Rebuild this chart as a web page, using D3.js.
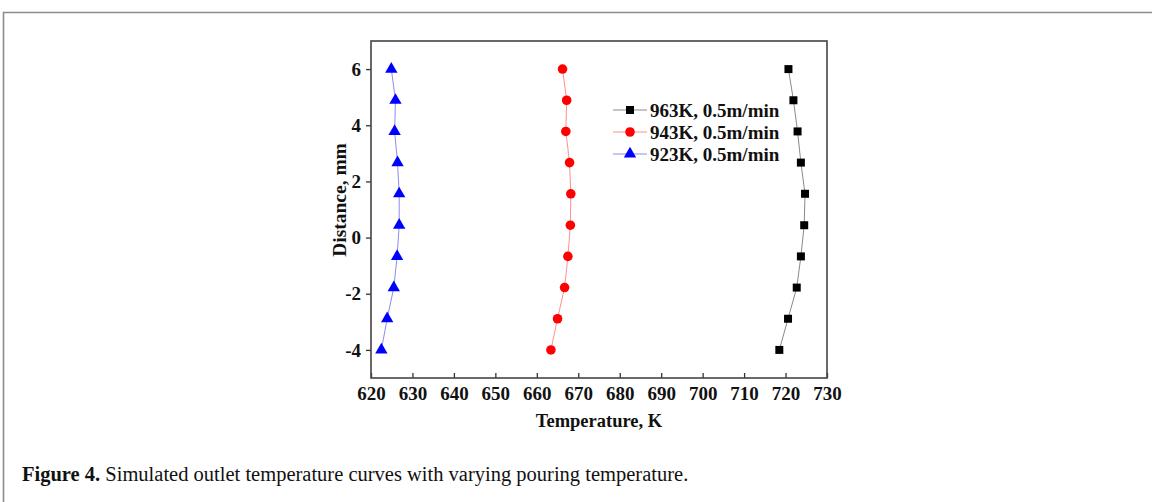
<!DOCTYPE html>
<html>
<head>
<meta charset="utf-8">
<script src="https://cdn.jsdelivr.net/npm/d3@7"></script>
<style>
  body { margin: 0; background: #fff; }
  svg { display: block; }
</style>
</head>
<body>
<div id="chart-area"></div>
<script>
// distance positions along the outlet (mm)
const distances = [6, 4.89, 3.78, 2.67, 1.56, 0.44, -0.67, -1.78, -2.89, -4];
const temp963 = [720.7, 721.9, 722.9, 723.7, 724.7, 724.5, 723.7, 722.7, 720.6, 718.5];
const temp943 = [666.2, 667.2, 667.0, 667.9, 668.2, 668.1, 667.5, 666.7, 665.0, 663.4];
const temp923 = [624.9, 625.9, 625.7, 626.4, 626.8, 626.8, 626.3, 625.5, 623.9, 622.5];
const seriesNames = ["963K, 0.5m/min", "943K, 0.5m/min", "923K, 0.5m/min"];
const xTicks = [620, 630, 640, 650, 660, 670, 680, 690, 700, 710, 720, 730];
const yTicks = [-4, -2, 0, 2, 4, 6];

const series = [
  { name: seriesNames[0], values: temp963, color: "#000000", line: "#8a8a8a", shape: "square" },
  { name: seriesNames[1], values: temp943, color: "#ff0000", line: "#ff9090", shape: "circle" },
  { name: seriesNames[2], values: temp923, color: "#0000ff", line: "#8c8cf0", shape: "triangle" }
];

const svgWidth = 1152;
const svgHeight = 502;
const margin = { top: 41, right: 325, bottom: 124, left: 371 };
const width = svgWidth - margin.left - margin.right;
const height = svgHeight - margin.top - margin.bottom;

const svg = d3.select("#chart-area")
              .append("svg")
              .attr("width", svgWidth)
              .attr("height", svgHeight);

svg.append("rect")
   .attr("width", svgWidth).attr("height", svgHeight)
   .attr("fill", "#fff");

// outer figure frame (top and left only)
svg.append("path")
   .attr("d", `M3.5,${svgHeight} V12.5 H${svgWidth}`)
   .attr("fill", "none")
   .attr("stroke", "#8c8c8c")
   .attr("stroke-width", 1.6);

const g = svg.append("g")
             .attr("transform", `translate(${margin.left}, ${margin.top})`);

const x = d3.scaleLinear().domain([620, 730]).range([0, width]);
const y = d3.scaleLinear().domain([-5, 7]).range([height, 0]);

const tickFont = "'Liberation Serif', 'Times New Roman', serif";

const xAxisCall = d3.axisBottom(x).tickValues(xTicks).tickSizeInner(-5).tickSizeOuter(0).tickPadding(9);
const yAxisCall = d3.axisLeft(y).tickValues(yTicks).tickSizeInner(5).tickSizeOuter(0).tickPadding(5)
                    .tickFormat(d => String(d));

const xAxis = g.append("g")
   .attr("class", "x-axis")
   .attr("transform", `translate(0, ${height})`)
   .call(xAxisCall);

const yAxis = g.append("g")
   .attr("class", "y-axis")
   .call(yAxisCall);

[xAxis, yAxis].forEach(ax => {
  ax.select(".domain").remove();
  ax.selectAll(".tick line").attr("stroke", "#333").attr("stroke-width", 1.3);
  ax.selectAll(".tick text")
    .attr("fill", "#111")
    .style("font-family", tickFont)
    .style("font-weight", "bold")
    .style("font-size", "19px");
});

// plot frame
g.append("rect")
 .attr("width", width).attr("height", height)
 .attr("fill", "none")
 .attr("stroke", "#444")
 .attr("stroke-width", 1.6);

const symbolFor = shape => {
  if (shape === "square") return d3.symbol().type(d3.symbolSquare).size(64);
  if (shape === "circle") return d3.symbol().type(d3.symbolCircle).size(72);
  return d3.symbol().type(d3.symbolTriangle).size(66);
};

const line = d3.line()
               .x(d => x(d.t))
               .y(d => y(d.d));

series.forEach(s => {
  const pts = s.values.map((t, i) => ({ t: t, d: distances[i] }));
  g.append("path")
   .datum(pts)
   .attr("d", line)
   .attr("fill", "none")
   .attr("stroke", s.line)
   .attr("stroke-width", 1);
  g.selectAll(null)
   .data(pts)
   .enter()
   .append("path")
     .attr("transform", d => `translate(${x(d.t)}, ${y(d.d)})`)
     .attr("d", symbolFor(s.shape)())
     .attr("fill", s.color);
});

// legend
const legend = svg.append("g").attr("transform", "translate(613, 110)");
series.forEach((s, i) => {
  const row = legend.append("g").attr("transform", `translate(0, ${i * 22})`);
  row.append("line")
     .attr("x1", 0).attr("x2", 34)
     .attr("stroke", s.line).attr("stroke-width", 1);
  row.append("path")
     .attr("transform", "translate(17, 0)")
     .attr("d", symbolFor(s.shape)())
     .attr("fill", s.color);
  row.append("text")
     .attr("x", 37)
     .attr("dy", "0.35em")
     .style("font-family", tickFont)
     .style("font-weight", "bold")
     .style("font-size", "19px")
     .attr("fill", "#111")
     .text(s.name);
});

g.append("text")
 .attr("class", "x-label")
 .attr("x", width / 2)
 .attr("y", height + 49)
 .attr("text-anchor", "middle")
 .style("font-family", tickFont)
 .style("font-weight", "bold")
 .style("font-size", "18.5px")
 .attr("fill", "#111")
 .text("Temperature, K");

g.append("text")
 .attr("class", "y-label")
 .attr("text-anchor", "middle")
 .attr("transform", "rotate(-90)")
 .attr("x", -(200 - margin.top))
 .attr("y", -25)
 .style("font-family", tickFont)
 .style("font-weight", "bold")
 .style("font-size", "19.5px")
 .attr("fill", "#111")
 .text("Distance, mm");

// caption
const caption = svg.append("text")
   .attr("x", 22)
   .attr("y", 481)
   .style("font-family", tickFont)
   .style("font-size", "20.5px")
   .attr("fill", "#111");
caption.append("tspan").style("font-weight", "bold").text("Figure 4.");
caption.append("tspan").text(" Simulated outlet temperature curves with varying pouring temperature.");
</script>
</body>
</html>
